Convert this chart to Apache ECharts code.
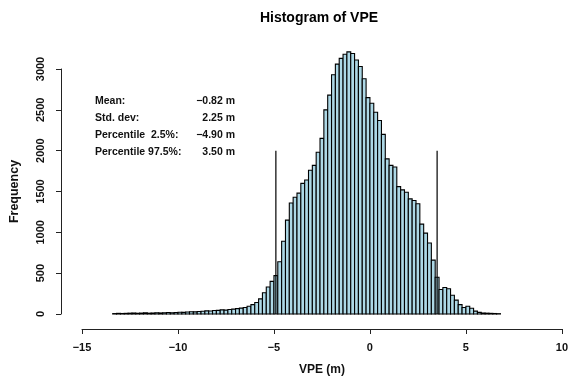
<!DOCTYPE html>
<html>
<head>
<meta charset="UTF-8">
<title>Histogram of VPE</title>
<script src="https://cdn.jsdelivr.net/npm/echarts@6/dist/echarts.min.js"></script>
<style>
  html, body { margin: 0; padding: 0; background: #fff; }
  #chart { width: 571px; height: 381px; }
</style>
</head>
<body>
<div id="chart"></div>
<script>
// histogram bins, 0.2 m wide, first edge at -13.4 m
var binStart = -13.4;
var binWidth = 0.2;
var counts = [
  5, 8, 6, 8, 10, 12, 9, 11, 14, 10,
  12, 15, 13, 15, 18, 16, 19, 22, 20, 24,
  28, 26, 30, 34, 38, 36, 42, 45, 50, 48,
  55, 60, 66, 72, 80, 95, 115, 140, 185, 260,
  330, 400, 470, 640, 890, 1150, 1360, 1430, 1480, 1600,
  1640, 1760, 1820, 1980, 2150, 2500, 2680, 2930, 3060, 3130,
  3180, 3210, 3190, 3110, 3030, 2880, 2650, 2580, 2470, 2370,
  2200, 1900, 1820, 1800, 1560, 1520, 1490, 1410, 1390, 1350,
  1100, 990, 870, 660, 450, 300, 325, 310, 230, 170,
  115, 80, 95, 70, 35, 20, 12, 10, 8, 6, 4
];

// 2.5% and 97.5% percentile markers
var percentiles = [-4.90, 3.50];
var percentileTop = 2000;

var statLabels = ['Mean:', 'Std. dev:', 'Percentile  2.5%:', 'Percentile 97.5%:'];
var statValues = ['\u22120.82 m', '2.25 m', '\u22124.90 m', '3.50 m'];

var font = '"Liberation Sans", Arial, sans-serif';

var bins = counts.map(function (c, i) {
  var lo = binStart + i * binWidth;
  return [lo, lo + binWidth, c];
});

var series = [{
  type: 'custom',
  clip: false,
  data: bins,
  encode: { x: [0, 1], y: 2 },
  renderItem: function (params, api) {
    var p0 = api.coord([api.value(0), 0]);
    var p1 = api.coord([api.value(1), api.value(2)]);
    return {
      type: 'rect',
      shape: { x: p0[0], y: p1[1], width: p1[0] - p0[0], height: p0[1] - p1[1] },
      style: { fill: '#ADD8E6', stroke: '#000', lineWidth: 1.1 }
    };
  }
}, {
  // percentile lines
  type: 'custom',
  clip: false,
  data: percentiles.map(function (p) { return [p, percentileTop]; }),
  encode: { x: 0, y: 1 },
  renderItem: function (params, api) {
    var a = api.coord([api.value(0), 0]);
    var b = api.coord([api.value(0), api.value(1)]);
    return {
      type: 'line',
      shape: { x1: a[0], y1: a[1], x2: b[0], y2: b[1] },
      style: { stroke: '#000', lineWidth: 1.2 }
    };
  }
}];

var graphics = [{
  type: 'text', x: 319, y: 18,
  style: { text: 'Histogram of VPE', align: 'center', verticalAlign: 'middle',
           font: 'bold 14px ' + font, fill: '#000' }
}];
statLabels.forEach(function (t, i) {
  graphics.push({
    type: 'text', x: 95, y: 101 + i * 17,
    style: { text: t, align: 'left', verticalAlign: 'middle', font: 'bold 10.5px ' + font, fill: '#111' }
  });
  graphics.push({
    type: 'text', x: 235, y: 101 + i * 17,
    style: { text: statValues[i], align: 'right', verticalAlign: 'middle', font: 'bold 10.5px ' + font, fill: '#111' }
  });
});

function tickLabel(v) { return String(v).replace('-', '\u2212'); }

var chart = echarts.init(document.getElementById('chart'));
chart.setOption({
  animation: false,
  grid: { left: 75, right: 9, top: 69, bottom: 64 },
  xAxis: {
    type: 'value', min: -15, max: 10, interval: 5,
    offset: 15,
    name: 'VPE (m)', nameLocation: 'middle', nameGap: 35,
    nameTextStyle: { fontFamily: font, fontSize: 12, fontWeight: 'bold', color: '#111' },
    axisLine: { show: true, onZero: false, lineStyle: { color: '#222', width: 1 } },
    axisTick: { show: true, length: 5, lineStyle: { color: '#222' } },
    axisLabel: { fontFamily: font, fontSize: 11, fontWeight: 'bold', color: '#111', margin: 13, formatter: tickLabel },
    splitLine: { show: false }
  },
  yAxis: {
    type: 'value', min: 0, max: 3000, interval: 500,
    offset: 21,
    name: 'Frequency', nameLocation: 'middle', nameGap: 40,
    nameTextStyle: { fontFamily: font, fontSize: 12.5, fontWeight: 'bold', color: '#111' },
    axisLine: { show: true, onZero: false, lineStyle: { color: '#222', width: 1 } },
    axisTick: { show: true, length: 5, lineStyle: { color: '#222' } },
    axisLabel: { fontFamily: font, fontSize: 11, fontWeight: 'bold', color: '#111', rotate: 90, margin: 15,
                 formatter: function (v) { return String(v); } },
    splitLine: { show: false }
  },
  graphic: graphics,
  series: series
});
</script>
</body>
</html>
